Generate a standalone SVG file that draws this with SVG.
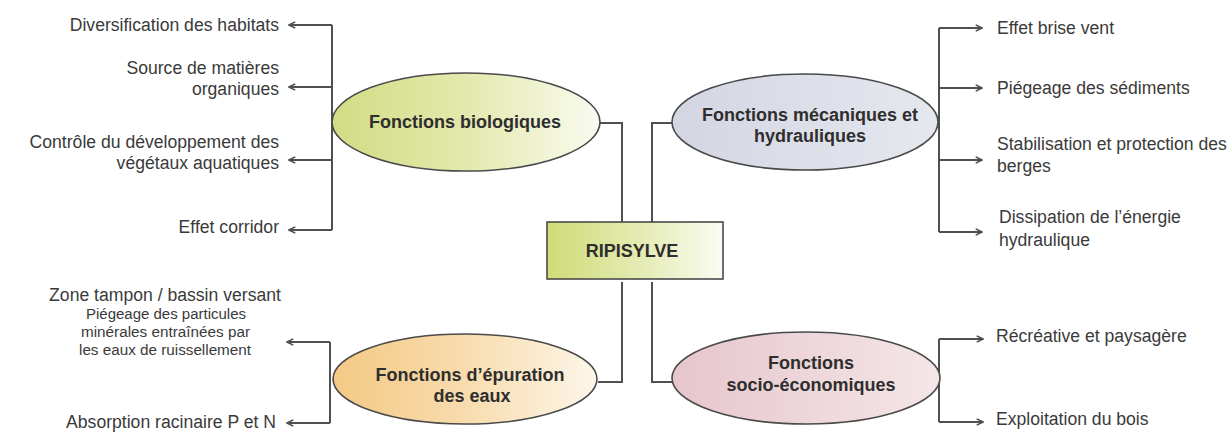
<svg xmlns="http://www.w3.org/2000/svg" width="1230" height="434" viewBox="0 0 1230 434">
<style>
.lbl{font-family:"Liberation Sans",Arial,sans-serif;font-size:17.6px;fill:#3a3a3a}
.sm{font-family:"Liberation Sans",Arial,sans-serif;font-size:15.5px;fill:#3a3a3a}
.ttl{font-family:"Liberation Sans",Arial,sans-serif;font-size:18px;font-weight:bold;fill:#2e2e2e;text-anchor:middle}
.shape{stroke:#4a4a4a;stroke-width:1.6}
.con{fill:none;stroke:#505050;stroke-width:2}
.arr{fill:none;stroke:#505050;stroke-width:2;marker-end:url(#ah)}
</style>
<defs>
<marker id="ah" viewBox="0 0 10 10" refX="9" refY="5" markerWidth="9" markerHeight="9" markerUnits="userSpaceOnUse" orient="auto">
<path d="M2,1.5 L9,5 L2,8.5" fill="none" stroke="#505050" stroke-width="1.8"/>
</marker>
<linearGradient id="gBio" x1="0" y1="0" x2="1" y2="0">
<stop offset="0" stop-color="#d2dc84"/><stop offset="0.5" stop-color="#e3e9ad"/><stop offset="1" stop-color="#fafbf0"/>
</linearGradient>
<linearGradient id="gMec" x1="0" y1="0" x2="1" y2="0">
<stop offset="0" stop-color="#d3d6e2"/><stop offset="1" stop-color="#e6e8ef"/>
</linearGradient>
<linearGradient id="gEpu" x1="0" y1="0" x2="1" y2="0">
<stop offset="0" stop-color="#f4c984"/><stop offset="0.5" stop-color="#f8dcae"/><stop offset="1" stop-color="#fdf6ea"/>
</linearGradient>
<linearGradient id="gSoc" x1="0" y1="0" x2="1" y2="0">
<stop offset="0" stop-color="#e6c6cc"/><stop offset="1" stop-color="#f5e6e8"/>
</linearGradient>
<linearGradient id="gRip" x1="0" y1="0" x2="1" y2="0">
<stop offset="0" stop-color="#cfdc78"/><stop offset="0.55" stop-color="#e5ecb5"/><stop offset="1" stop-color="#fbfcf4"/>
</linearGradient>
</defs>
<rect width="1230" height="434" fill="#ffffff"/>

<g id="connectors">
<path class="con" d="M600,123 H622 V222"/>
<path class="con" d="M672,123 H652 V222"/>
<path class="con" d="M622,282 V382 H598"/>
<path class="con" d="M652,282 V382 H672"/>
<path class="con" d="M332,25 V230"/>
<path class="arr" d="M332,25 H289"/>
<path class="arr" d="M332,87 H289"/>
<path class="arr" d="M332,160 H289"/>
<path class="arr" d="M332,230 H289"/>
<path class="con" d="M939,28 V232"/>
<path class="arr" d="M939,28 H982"/>
<path class="arr" d="M939,88 H982"/>
<path class="arr" d="M939,160 H982"/>
<path class="arr" d="M939,232 H982"/>
<path class="con" d="M330,342 V423"/>
<path class="arr" d="M330,342 H287"/>
<path class="arr" d="M330,423 H287"/>
<path class="con" d="M939,339 V422"/>
<path class="arr" d="M939,339 H983"/>
<path class="arr" d="M939,422 H983"/>
</g>

<g id="node-ripisylve">
<rect class="shape" x="547" y="222" width="176" height="57" fill="url(#gRip)"/>
<text class="ttl" x="632" y="257">RIPISYLVE</text>
</g>

<g id="node-biologiques">
<ellipse class="shape" cx="466" cy="122" rx="134" ry="49" fill="url(#gBio)"/>
<text class="ttl" x="465" y="128">Fonctions biologiques</text>
</g>

<g id="node-mecaniques">
<ellipse class="shape" cx="805" cy="122" rx="133" ry="48" fill="url(#gMec)"/>
<text class="ttl" x="810" y="121">Fonctions mécaniques et</text>
<text class="ttl" x="810" y="142">hydrauliques</text>
</g>

<g id="node-epuration">
<ellipse class="shape" cx="465" cy="379" rx="132" ry="45" fill="url(#gEpu)"/>
<text class="ttl" x="470" y="381">Fonctions d’épuration</text>
<text class="ttl" x="472" y="402">des eaux</text>
</g>

<g id="node-socio">
<ellipse class="shape" cx="806" cy="378" rx="134" ry="46" fill="url(#gSoc)"/>
<text class="ttl" x="811" y="369">Fonctions</text>
<text class="ttl" x="811" y="391">socio-économiques</text>
</g>

<g id="labels-biologiques" text-anchor="end">
<text class="lbl" x="279" y="31">Diversification des habitats</text>
<text class="lbl" x="279" y="74">Source de matières</text>
<text class="lbl" x="279" y="95">organiques</text>
<text class="lbl" x="279" y="148">Contrôle du développement des</text>
<text class="lbl" x="279" y="169">végétaux aquatiques</text>
<text class="lbl" x="279" y="233">Effet corridor</text>
</g>

<g id="labels-mecaniques">
<text class="lbl" x="997" y="34">Effet brise vent</text>
<text class="lbl" x="997" y="94">Piégeage des sédiments</text>
<text class="lbl" x="997" y="150">Stabilisation et protection des</text>
<text class="lbl" x="997" y="172">berges</text>
<text class="lbl" x="999" y="223">Dissipation de l’énergie</text>
<text class="lbl" x="999" y="246">hydraulique</text>
</g>

<g id="labels-epuration">
<text class="lbl" x="165" y="301" text-anchor="middle">Zone tampon / bassin versant</text>
<text class="sm" x="86" y="319" textLength="160" lengthAdjust="spacingAndGlyphs">Piégeage des particules</text>
<text class="sm" x="81" y="337" textLength="169" lengthAdjust="spacingAndGlyphs">minérales entraînées par</text>
<text class="sm" x="79" y="355" textLength="172" lengthAdjust="spacingAndGlyphs">les eaux de ruissellement</text>
<text class="lbl" x="276" y="428" text-anchor="end">Absorption racinaire P et N</text>
</g>

<g id="labels-socio">
<text class="lbl" x="996" y="342">Récréative et paysagère</text>
<text class="lbl" x="996" y="425">Exploitation du bois</text>
</g>
</svg>
